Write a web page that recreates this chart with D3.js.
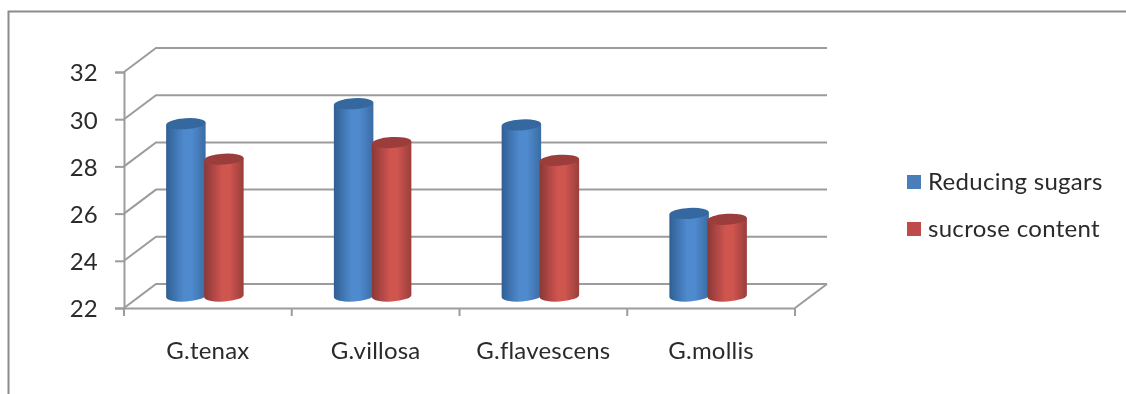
<!DOCTYPE html>
<html>
<head>
<meta charset="utf-8">
<script src="https://cdnjs.cloudflare.com/ajax/libs/d3/7.8.5/d3.min.js"></script>
<style>
html, body { margin: 0; padding: 0; background: #fff; overflow: hidden; }
svg { display: block; }
text { font-family: Lato, "Open Sans", sans-serif; fill: #2b2b2b; }
.tick text { font-size: 24px; letter-spacing: 0.2px; }
</style>
</head>
<body>
<script>
var categories = ['G.tenax', 'G.villosa', 'G.flavescens', 'G.mollis'];
var seriesNames = ['Reducing sugars', 'sucrose content'];
var reducingSugars = [29.3, 30.15, 29.25, 25.5];
var sucroseContent = [27.8, 28.5, 27.75, 25.25];
var yTicks = [22, 24, 26, 28, 30, 32];
var bodyColors = [['#2f5f93', '#4f8ace', '#3a6ca3'], ['#8a3836', '#cf5450', '#993f3c']];
var topColors = ['#35689e', '#9b3e3b'];
var legendColors = ['#4a7ebb', '#be4b48'];

var width = 1126, height = 394;
var gridColor = '#9c9c9c';
var depth = {x: 32, y: -24};
var barDepth = -12, barShift = -2.5, ry = 5.5, tilt = 3.5;

var svg = d3.select('body').append('svg')
    .attr('width', width)
    .attr('height', height);

var defs = svg.append('defs');
defs.append('filter').attr('id', 'soft')
    .append('feGaussianBlur').attr('stdDeviation', 0.5);

bodyColors.forEach(function(c, i) {
    var g = defs.append('linearGradient').attr('id', 'body' + i);
    g.append('stop').attr('offset', '0%').attr('stop-color', c[0]);
    g.append('stop').attr('offset', '45%').attr('stop-color', c[1]);
    g.append('stop').attr('offset', '65%').attr('stop-color', c[1]);
    g.append('stop').attr('offset', '100%').attr('stop-color', c[2]);
});

// outer frame, open on the right and at the bottom
svg.append('path')
    .attr('d', 'M8.5,' + height + 'V11.5H' + width)
    .attr('fill', 'none')
    .attr('stroke', '#8c8c8c')
    .attr('stroke-width', 2);

var x = d3.scaleBand().domain(categories).range([124, 795]);
var y = d3.scaleLinear().domain([22, 32]).range([308, 72]);

var plot = svg.append('g').attr('filter', 'url(#soft)');

// back wall, floor and the slanted left wall
var walls = plot.append('g')
    .attr('fill', 'none')
    .attr('stroke', gridColor)
    .attr('stroke-width', 2);

yTicks.forEach(function(t) {
    walls.append('path')
        .attr('d', d3.line()([
            [x.range()[0], y(t)],
            [x.range()[0] + depth.x, y(t) + depth.y],
            [x.range()[1] + depth.x, y(t) + depth.y]
        ]));
});
walls.append('path')
    .attr('d', d3.line()([
        [x.range()[1], y(22)],
        [x.range()[1] + depth.x, y(22) + depth.y]
    ]));

var yAxis = d3.axisLeft(y).tickValues(yTicks).tickSize(9).tickPadding(17).tickFormat(d3.format('d'));
var xAxis = d3.axisBottom(x).tickSize(0).tickPadding(34);

var yG = plot.append('g').attr('transform', 'translate(124,0)').call(yAxis);
var xG = plot.append('g').attr('transform', 'translate(0,308)').call(xAxis);
yG.selectAll('.tick text').attr('dy', '0.37em');
plot.selectAll('.domain').attr('stroke', gridColor).attr('stroke-width', 2);
plot.selectAll('.tick line').attr('stroke', gridColor).attr('stroke-width', 2);

// category separators on the x axis
xG.selectAll('.sep')
    .data(d3.range(categories.length + 1))
    .enter().append('line')
    .classed('sep', true)
    .attr('x1', function(d) { return x.range()[0] + d * x.step(); })
    .attr('x2', function(d) { return x.range()[0] + d * x.step(); })
    .attr('y1', 0)
    .attr('y2', 8)
    .attr('stroke', gridColor)
    .attr('stroke-width', 2);

var x1 = d3.scaleBand().domain([0, 1]).range([0, 76]);
var rows = [reducingSugars, sucroseContent];

rows.forEach(function(values, s) {
    var bars = plot.append('g').selectAll('g')
        .data(values)
        .enter().append('g')
        .attr('transform', function(d, i) {
            var cx = x(categories[i]) + x.bandwidth() / 2 - 38.5 + barShift + x1(s) + x1.bandwidth() / 2;
            return 'translate(' + cx + ',0)';
        });
    var rx = x1.bandwidth() / 2 + 0.75;
    var lean = rx * Math.tan(tilt * Math.PI / 180);
    var base = y(22) + barDepth;

    bars.append('path')
        .attr('fill', 'url(#body' + s + ')')
        .attr('d', function(d) {
            var top = y(d) + barDepth;
            return 'M' + (-rx) + ',' + (top + lean) + 'L' + (-rx) + ',' + (base + lean) +
                'A' + rx + ',' + ry + ' ' + (-tilt) + ' 0 0 ' + rx + ',' + (base - lean) +
                'L' + rx + ',' + (top - lean) + 'Z';
        });
    bars.append('ellipse')
        .attr('rx', rx)
        .attr('ry', ry)
        .attr('transform', function(d) {
            return 'translate(0,' + (y(d) + barDepth) + ') rotate(' + (-tilt) + ')';
        })
        .attr('fill', topColors[s]);
});

// legend
var legendRows = [190, 237];
var legend = svg.append('g').attr('filter', 'url(#soft)').selectAll('g')
    .data(seriesNames)
    .enter().append('g')
    .attr('transform', function(d, i) { return 'translate(907,' + legendRows[i] + ')'; });
legend.append('rect')
    .attr('y', -15)
    .attr('width', 14)
    .attr('height', 14)
    .attr('fill', function(d, i) { return legendColors[i]; });
legend.append('text')
    .attr('x', 21)
    .attr('font-size', 24)
    .attr('letter-spacing', 0.3)
    .text(function(d) { return d; });
</script>
</body>
</html>
